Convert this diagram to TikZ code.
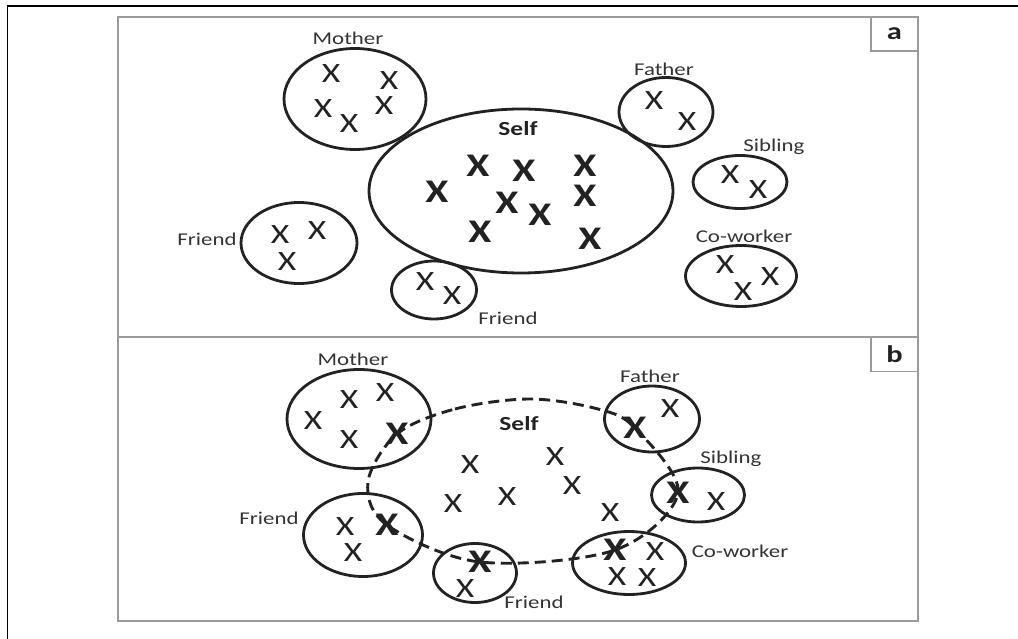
\documentclass[tikz,border=0pt]{standalone}
\usepackage{fontspec}
\setmainfont[FakeStretch=1.27]{Carlito}
\usepackage{tikz}
\usetikzlibrary{calc,shapes}
\definecolor{ink}{HTML}{222222}
\definecolor{txt}{HTML}{333333}
\definecolor{frame}{HTML}{9A9A9A}

\begin{document}
\begin{tikzpicture}[
    x=1pt, y=-1pt,
    ring/.style={draw=ink, line width=2.8pt, ellipse, inner sep=0pt},
    lbl/.style={text=txt, inner sep=0pt, font=\fontsize{18}{20}\selectfont},
    selflbl/.style={text=ink, inner sep=0pt, font=\bfseries\fontsize{20}{22}\selectfont},
    cross/.style={text=ink, inner sep=0pt, font=\fontsize{28}{30}\selectfont},
    bigcross/.style={text=ink, inner sep=0pt, font=\bfseries\fontsize{33}{35}\selectfont},
    panel/.style={draw=frame, line width=1.5pt},
    tag/.style={draw=frame, line width=1.2pt, text=ink, inner sep=0pt,
    minimum width=47, minimum height=34, font=\bfseries\fontsize{24}{26}\selectfont},
    selfline/.style={draw=ink, line width=2.9pt, dash pattern=on 11pt off 6pt}
    ]
    \useasboundingbox (0,0) rectangle (1018,639);
    % Outer frame
    \draw[black, line width=1.6pt] (7.5,639) -- (7.5,6) -- (1018,6);
    % Panels
    \draw[panel] (118,17) rectangle (918,337);
    \draw[panel] (118,337) rectangle (918,621);
    \node[tag] (taga) at (894.5,34) {a};
    \node[tag] (tagb) at (894.5,354.5) {b};

    % Panel a: rings
    \node[ring, minimum width=304, minimum height=164] (selfA) at (521,191) {};
    \node[ring, minimum width=142, minimum height=101] (motherA) at (355,99) {};
    \node[ring, minimum width=94, minimum height=69] (fatherA) at (666,112) {};
    \node[ring, minimum width=94, minimum height=53] (siblingA) at (740,182) {};
    \node[ring, minimum width=111, minimum height=61] (coworkerA) at (741,276) {};
    \node[ring, minimum width=116, minimum height=81] (friendlA) at (299,243) {};
    \node[ring, minimum width=85, minimum height=58] (friendbA) at (434,290) {};
    % Panel a: labels
    \node[lbl] (lmotherA) at (348,38) {Mother};
    \node[lbl] (lfatherA) at (664,69) {Father};
    \node[lbl] (lsiblingA) at (774,147) {Sibling};
    \node[lbl] (lcoworkerA) at (744,236) {Co-worker};
    \node[lbl] (lfriendlA) at (207,239) {Friend};
    \node[lbl] (lfriendbA) at (508,318) {Friend};
    \node[selflbl] (lselfA) at (518,129) {Self};
    % Panel a: crosses
    \foreach \p [count=\i] in {(478,166),(524,171),(585,166),(437,192),(507,203),
        (540,215),(585,196),(480,232),(590,239)}
        \node[bigcross] (sa\i) at \p {X};
    \foreach \p [count=\i] in {(331,74),(389,81),(323,109),(349,124),(384,106)}
        \node[cross] (ma\i) at \p {X};
    \node[cross] (fa1) at (654,101) {X};
    \node[cross] (fa2) at (687,122) {X};
    \node[cross] (sia1) at (730,175) {X};
    \node[cross] (sia2) at (758,190) {X};
    \node[cross] (ca1) at (725,265) {X};
    \node[cross] (ca2) at (770,277) {X};
    \node[cross] (ca3) at (743,292) {X};
    \node[cross] (fla1) at (280,235) {X};
    \node[cross] (fla2) at (317,231) {X};
    \node[cross] (fla3) at (287,262) {X};
    \node[cross] (fba1) at (425,282) {X};
    \node[cross] (fba2) at (452,296) {X};

    % Panel b: rings
    \node[ring, minimum width=144, minimum height=99] (motherB) at (359,419) {};
    \node[ring, minimum width=95, minimum height=66] (fatherB) at (652,419) {};
    \node[ring, minimum width=93, minimum height=54] (siblingB) at (698,495) {};
    \node[ring, minimum width=113, minimum height=63] (coworkerB) at (629,563) {};
    \node[ring, minimum width=119, minimum height=83] (friendlB) at (363,535) {};
    \node[ring, minimum width=83, minimum height=59] (friendbB) at (475,573) {};
    % Panel b: labels
    \node[lbl] (lmotherB) at (353,359) {Mother};
    \node[lbl] (lfatherB) at (650,376) {Father};
    \node[lbl] (lsiblingB) at (731,459) {Sibling};
    \node[lbl] (lcoworkerB) at (740,551) {Co-worker};
    \node[lbl] (lfriendlB) at (269,518) {Friend};
    \node[lbl] (lfriendbB) at (534,602) {Friend};
    \node[selflbl] (lselfB) at (519,424) {Self};
    % Panel b: crosses (bold ones are shared with self)
    \node[bigcross] (mb) at (397,434) {X};
    \node[bigcross] (fb) at (635,428) {X};
    \node[bigcross] (sb) at (678,493) {X};
    \node[bigcross] (cb) at (615,550) {X};
    \node[bigcross] (frb) at (480,562) {X};
    \node[bigcross] (flb) at (387,525) {X};
    \foreach \p [count=\i] in {(470,465),(555,457),(453,504),(507,497),(572,486),(610,513)}
        \node[cross] (sb\i) at \p {X};
    \foreach \p [count=\i] in {(313,421),(349,400),(385,393),(349,440)}
        \node[cross] (mb\i) at \p {X};
    \node[cross] (fb1) at (670,409) {X};
    \node[cross] (sib1) at (716,502) {X};
    \node[cross] (cb1) at (655,552) {X};
    \node[cross] (cb2) at (617,577) {X};
    \node[cross] (cb3) at (647,578) {X};
    \node[cross] (flb1) at (345,527) {X};
    \node[cross] (flb2) at (353,553) {X};
    \node[cross] (frb1) at (465,589) {X};
    % Dashed self boundary
    \coordinate (topl) at (455,409);
    \coordinate (topm) at (530,399);
    \coordinate (topr) at (598,409);
    \coordinate (lft) at (368,482);
    \draw[selfline] plot[smooth cycle, tension=0.55] coordinates {(mb.center) (topl) (topm)
        (topr) (fb.center) (sb.center) (cb.center) (frb.center) (flb.center) (lft)};
\end{tikzpicture}
\end{document}
